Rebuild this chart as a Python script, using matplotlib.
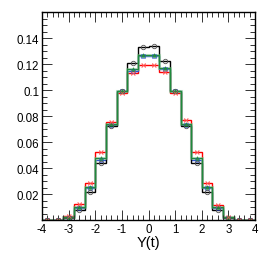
import numpy as np
import matplotlib
matplotlib.use("Agg")
import matplotlib.pyplot as plt
from matplotlib.ticker import MultipleLocator, FixedLocator

plt.rcParams['font.family'] = ['Liberation Sans', 'DejaVu Sans']

edges = np.linspace(-4, 4, 21)
black = [0.0001, 0.0003, 0.0015, 0.0079, 0.0215, 0.044, 0.0725, 0.0995, 0.121, 0.133,
         0.134, 0.122, 0.0995, 0.072, 0.044, 0.0215, 0.0078, 0.0015, 0.0003, 0.0001]
blue = [0.0001, 0.0003, 0.0018, 0.0095, 0.0245, 0.046, 0.073, 0.099, 0.115, 0.126,
        0.126, 0.116, 0.099, 0.073, 0.046, 0.0245, 0.0095, 0.0018, 0.0003, 0.0001]
green = [0.0001, 0.0003, 0.002, 0.010, 0.0254, 0.0474, 0.0735, 0.099, 0.116, 0.127,
         0.127, 0.117, 0.099, 0.0735, 0.048, 0.0254, 0.0098, 0.002, 0.0003, 0.0001]
red = [0.0001, 0.0004, 0.0028, 0.012, 0.0287, 0.0523, 0.0756, 0.098, 0.113, 0.119,
       0.119, 0.1136, 0.098, 0.077, 0.052, 0.0287, 0.0118, 0.0026, 0.0004, 0.0001]
xticks = [-4, -3, -2, -1, 0, 1, 2, 3, 4]
yticks = [0.02, 0.04, 0.06, 0.08, 0.1, 0.12, 0.14]
ylabels = ['0.02', '0.04', '0.06', '0.08', '0.1', '0.12', '0.14']

centers = 0.5 * (edges[:-1] + edges[1:])

fig = plt.figure(figsize=(2.66, 2.55), dpi=100)
ax = fig.add_axes([0.158, 0.133, 0.801, 0.816])

ax.stairs(red, edges, color='red', lw=1.0)
ax.stairs(blue, edges, color='#3050d0', lw=1.0)
ax.stairs(black, edges, color='black', lw=1.0)
ax.stairs(green, edges, color='#7cc48c', lw=2.2, alpha=0.5)
ax.stairs(green, edges, color='#1f8a3c', lw=0.9)

ax.errorbar(centers, red, xerr=0.06, fmt='x', color='#ff5050', ms=2.5, mew=0.6,
            elinewidth=0.5, capsize=1.3, alpha=0.8)
ax.plot(centers, blue, 's', color='#3050d0', ms=2.2, mfc='none', mew=0.6, alpha=0.7)
ax.plot(centers, black, 'o', color='#555555', ms=3.2, mfc='none', mew=0.6)
ax.plot(centers, green, '^', color='#1f8a3c', ms=2.6, mew=0.5, alpha=0.8)

ax.set_xlim(-4, 4)
ax.set_ylim(0, 0.16)

ax.xaxis.set_major_locator(FixedLocator(xticks))
ax.xaxis.set_minor_locator(MultipleLocator(0.2))
ax.yaxis.set_major_locator(FixedLocator(yticks))
ax.yaxis.set_minor_locator(MultipleLocator(0.005))
ax.set_yticklabels(ylabels)
ax.set_xticklabels([str(t) for t in xticks])

ax.tick_params(which='both', direction='in', top=True, right=True, labelsize=8.3,
               width=0.7, color='#333333')
ax.tick_params(which='major', length=7)
ax.tick_params(which='minor', length=3.5)
ax.tick_params(axis='x', pad=2)
ax.tick_params(axis='y', pad=2)
for s in ax.spines.values():
    s.set_linewidth(1.0)

ax.set_xlabel('Y(t)', fontsize=10.5, labelpad=0)

fig.savefig('out.png', dpi=100)
